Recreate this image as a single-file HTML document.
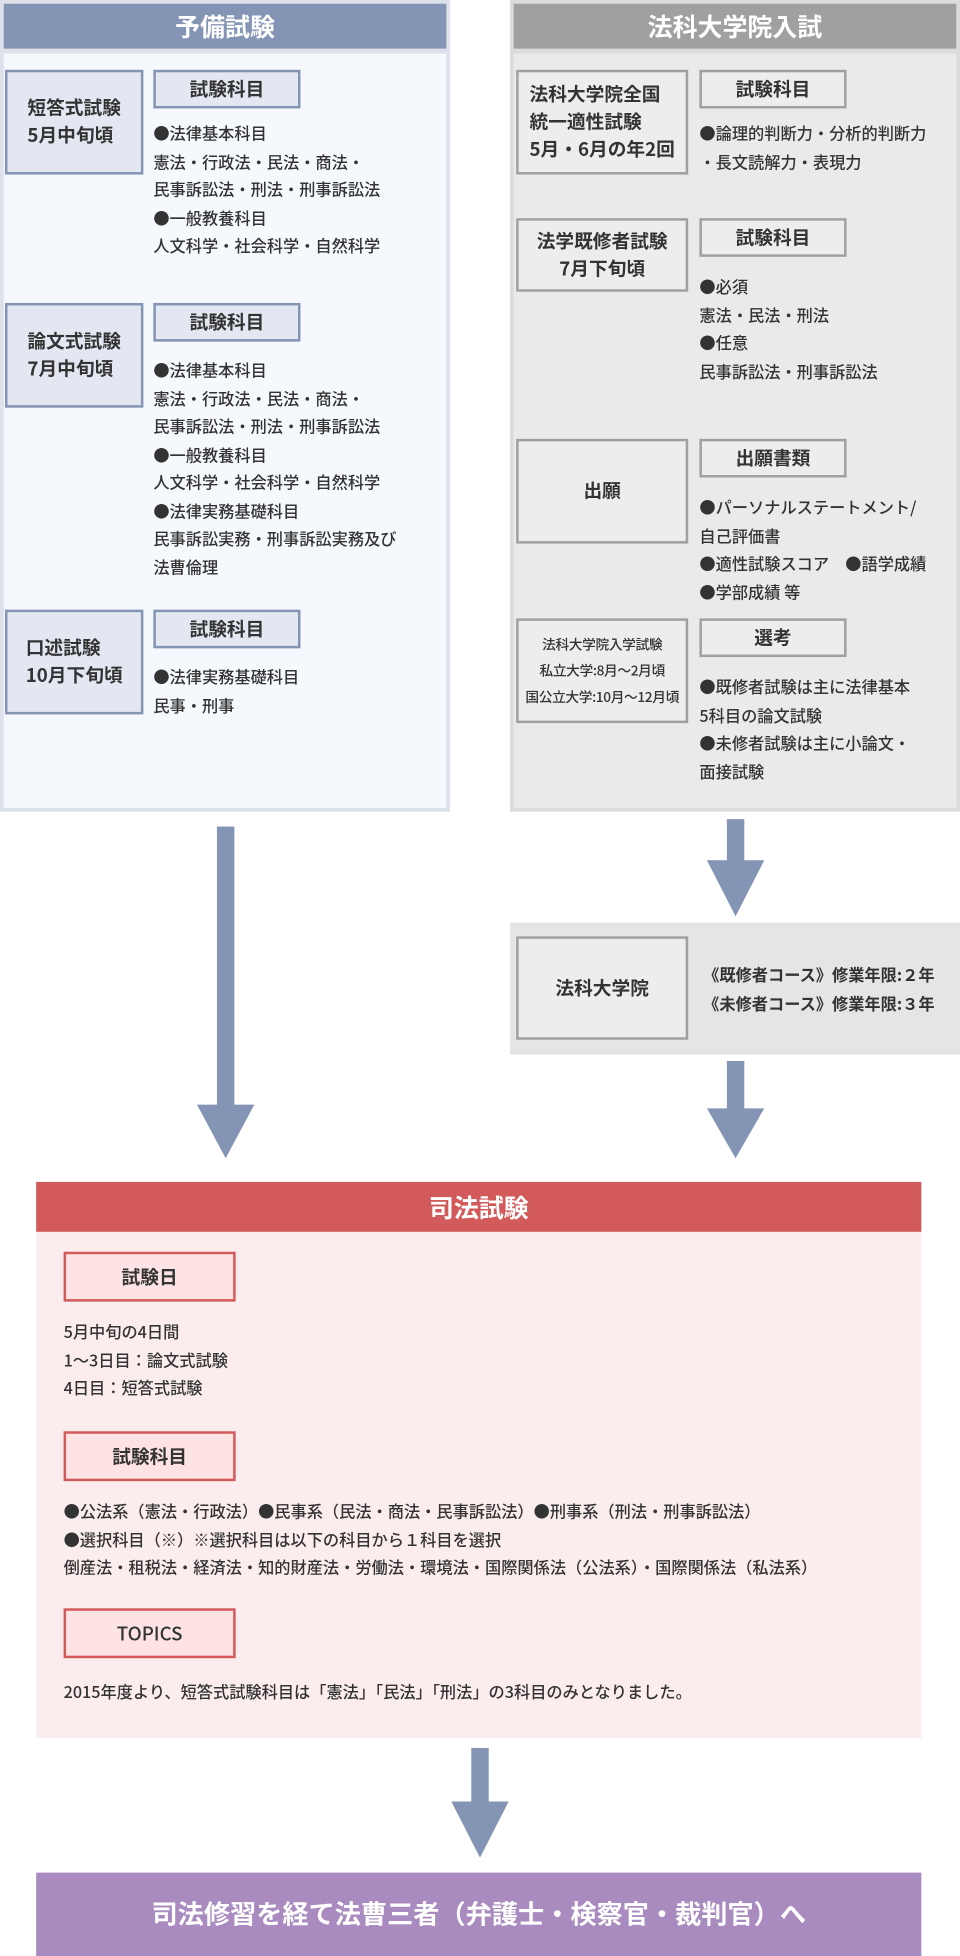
<!DOCTYPE html>
<html><head><meta charset="utf-8"><style>
html,body{margin:0;padding:0;background:#fff;}
body{width:960px;height:1956px;overflow:hidden;position:relative;font-family:"Noto Sans CJK JP","Liberation Sans",sans-serif;}
#w{position:absolute;left:0;top:0;width:770px;height:1569px;transform:scale(1.24675);transform-origin:0 0;}
.a{position:absolute;box-sizing:border-box;}
.hd{color:#fff;font-weight:bold;font-size:20px;text-align:center;}
.bx{display:flex;align-items:center;justify-content:center;text-align:center;font-weight:bold;font-size:15px;color:#333;line-height:22px;}
.lb{display:flex;align-items:center;justify-content:center;font-weight:bold;font-size:15px;color:#333;}
.tx{font-size:13px;color:#333;line-height:22.5px;white-space:nowrap;font-weight:500;}
.L .bx,.L .lb{background:#e3e7f1;border:2px solid #8494b4;}
.R .bx,.R .lb{background:#ededed;border:2px solid #a0a0a0;}
.P .lb{background:#fde3e3;border:2px solid #d25a5a;}
</style></head><body><div id="w">
<div class="a L" style="left:0;top:0;width:361px;height:651px;background:#dde1ea;">
 <div class="a hd" style="left:3px;top:3px;width:355px;height:36px;line-height:36px;background:#8494b4;">予備試験</div>
 <div class="a" style="left:3px;top:43px;width:355px;height:605px;background:#f5f8fd;"></div>
 <div class="a bx" style="left:4px;top:56px;width:111px;height:84px;text-align:left;">短答式試験<br>5月中旬頃</div>
 <div class="a lb" style="left:123px;top:56px;width:118px;height:31px;">試験科目</div>
 <div class="a tx" style="left:123px;top:96px;">●法律基本科目<br>憲法・行政法・民法・商法・<br>民事訴訟法・刑法・刑事訴訟法<br>●一般教養科目<br>人文科学・社会科学・自然科学</div>
 <div class="a bx" style="left:4px;top:243px;width:111px;height:84px;text-align:left;">論文式試験<br>7月中旬頃</div>
 <div class="a lb" style="left:123px;top:243px;width:118px;height:31px;">試験科目</div>
 <div class="a tx" style="left:123px;top:286px;">●法律基本科目<br>憲法・行政法・民法・商法・<br>民事訴訟法・刑法・刑事訴訟法<br>●一般教養科目<br>人文科学・社会科学・自然科学<br>●法律実務基礎科目<br>民事訴訟実務・刑事訴訟実務及び<br>法曹倫理</div>
 <div class="a bx" style="left:4px;top:489px;width:111px;height:84px;text-align:left;">口述試験<br>10月下旬頃</div>
 <div class="a lb" style="left:123px;top:489px;width:118px;height:31px;">試験科目</div>
 <div class="a tx" style="left:123px;top:532px;">●法律実務基礎科目<br>民事・刑事</div>
</div>
<div class="a R" style="left:409px;top:0;width:361px;height:651px;background:#dcdcdc;">
 <div class="a hd" style="left:3px;top:3px;width:355px;height:36px;line-height:36px;background:#a0a0a0;">法科大学院入試</div>
 <div class="a" style="left:3px;top:43px;width:355px;height:605px;background:#e9eaec;"></div>
 <div class="a bx" style="left:5px;top:56px;width:138px;height:84px;text-align:left;">法科大学院全国<br>統一適性試験<br>5月・6月の年2回</div>
 <div class="a lb" style="left:152px;top:56px;width:118px;height:31px;">試験科目</div>
 <div class="a tx" style="left:152px;top:96px;">●論理的判断力・分析的判断力<br>・長文読解力・表現力</div>
 <div class="a bx" style="left:5px;top:175px;width:138px;height:59px;">法学既修者試験<br>7月下旬頃</div>
 <div class="a lb" style="left:152px;top:175px;width:118px;height:31px;">試験科目</div>
 <div class="a tx" style="left:152px;top:219px;">●必須<br>憲法・民法・刑法<br>●任意<br>民事訴訟法・刑事訴訟法</div>
 <div class="a bx" style="left:5px;top:352px;width:138px;height:84px;">出願</div>
 <div class="a lb" style="left:152px;top:352px;width:118px;height:31px;">出願書類</div>
 <div class="a tx" style="left:152px;top:396px;">●パーソナルステートメント/<br>自己評価書<br>●適性試験スコア　●語学成績<br>●学部成績 等</div>
 <div class="a bx" style="left:5px;top:496px;width:138px;height:84px;font-size:11px;font-weight:500;line-height:21px;letter-spacing:-0.3px;">法科大学院入学試験<br>私立大学:8月〜2月頃<br>国公立大学:10月〜12月頃</div>
 <div class="a lb" style="left:152px;top:496px;width:118px;height:31px;">選考</div>
 <div class="a tx" style="left:152px;top:540px;">●既修者試験は主に法律基本<br>5科目の論文試験<br>●未修者試験は主に小論文・<br>面接試験</div>
</div>
<svg class="a" style="left:0;top:0;" width="770" height="1569">
 <g fill="#8494b4">
  <rect x="174" y="663" width="14" height="224"/><polygon points="158,886 204,886 181,929"/>
  <rect x="583" y="657" width="14" height="34"/><polygon points="567,690 613,690 590,735"/>
  <rect x="583" y="851" width="14" height="40"/><polygon points="567,889 613,889 590,929"/>
  <rect x="378" y="1402" width="14" height="44"/><polygon points="362,1445 408,1445 385,1490"/>
 </g>
</svg>
<div class="a R" style="left:409px;top:740px;width:361px;height:106px;background:#e4e5e7;">
 <div class="a bx" style="left:5px;top:11px;width:138px;height:83px;">法科大学院</div>
 <div class="a tx" style="left:155px;top:31px;font-weight:bold;">《既修者コース》修業年限:２年<br>《未修者コース》修業年限:３年</div>
</div>
<div class="a P" style="left:29px;top:948px;width:710px;height:446px;background:#fbeded;">
 <div class="a hd" style="left:0;top:0;width:710px;height:40px;line-height:40px;background:#d25a5a;">司法試験</div>
 <div class="a lb" style="left:22px;top:56px;width:138px;height:40px;">試験日</div>
 <div class="a tx" style="left:22px;top:109px;">5月中旬の4日間<br>1〜3日目：論文式試験<br>4日目：短答式試験</div>
 <div class="a lb" style="left:22px;top:200px;width:138px;height:40px;">試験科目</div>
 <div class="a tx" style="left:22px;top:253px;">●公法系（憲法・行政法）●民事系（民法・商法・民事訴訟法）●刑事系（刑法・刑事訴訟法）<br>●選択科目（※）※選択科目は以下の科目から１科目を選択<br>倒産法・租税法・経済法・知的財産法・労働法・環境法・国際関係法（公法系）・国際関係法（私法系）</div>
 <div class="a lb" style="left:22px;top:342px;width:138px;height:40px;font-weight:500;">TOPICS</div>
 <div class="a tx" style="left:22px;top:398px;">2015年度より、短答式試験科目は「憲法」「民法」「刑法」の3科目のみとなりました。</div>
</div>
<div class="a" style="left:29px;top:1502px;width:710px;height:67px;background:#a98bbf;color:#fff;font-weight:bold;font-size:21px;line-height:67px;text-align:center;">司法修習を経て法曹三者（弁護士・検察官・裁判官）へ</div>
</div></body></html>
